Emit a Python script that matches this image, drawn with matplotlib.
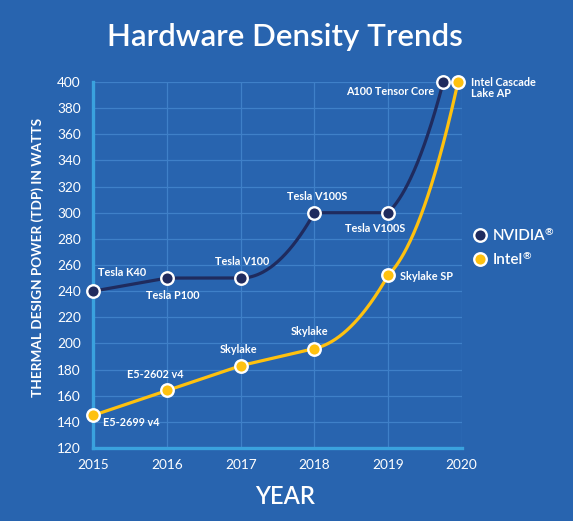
import numpy as np
import matplotlib
matplotlib.use("Agg")
import matplotlib.pyplot as plt
from matplotlib.lines import Line2D

# ---------------- data ----------------
years_nvidia = [2015, 2016, 2017, 2018, 2019, 2019.75]
tdp_nvidia = [240, 250, 250, 300, 300, 400]
labels_nvidia = ["Tesla K40", "Tesla P100", "Tesla V100", "Tesla V100S",
                 "Tesla V100S", "A100 Tensor Core"]

years_intel = [2015, 2016, 2017, 2018, 2019, 2019.95]
tdp_intel = [145, 164, 183, 196, 252, 400]
labels_intel = ["E5-2699 v4", "E5-2602 v4", "Skylake", "Skylake",
                "Skylake SP", "Intel Cascade\nLake AP"]

x_ticks = [2015, 2016, 2017, 2018, 2019, 2020]
y_ticks = list(range(120, 401, 20))

series_names = ["NVIDIA", "Intel"]

# ---------------- style ----------------
BG = "#2864af"
GRID = "#3f80c8"
AXIS = "#3aa2de"
NAVY = "#1f2b5e"
YELLOW = "#fec10f"
WHITE = "white"
FONT = ["Lato", "DejaVu Sans"]
plt.rcParams["font.family"] = FONT

# label offsets (points) and alignment
off_nvidia = [((3.6, 13.5), "left"), ((4.3, -12.2), "center"), ((1.4, 12.2), "center"),
              ((2.2, 11.5), "center"), ((-9.4, -11.5), "center"), ((-6.5, -6.5), "right")]
off_intel = [((7.2, -5), "left"), ((-8.6, 11.5), "center"), ((-1.4, 11.7), "center"),
             ((-3.6, 12.2), "center"), ((8.6, -0.7), "left"), ((9.4, -4.6), "left")]


def smooth(xs, ys, n=80):
    """Piecewise quadratic smoothing with minmod start tangents."""
    xs = np.asarray(xs, float)
    ys = np.asarray(ys, float)
    h = np.diff(xs)
    d = np.diff(ys) / h
    outx, outy = [], []
    for i in range(len(h)):
        if i == 0:
            m0 = d[0]
        else:
            a, b = d[i - 1], d[i]
            m0 = 0.0 if a * b <= 0 else (a if abs(a) < abs(b) else b)
            if i == len(h) - 1 and m0 == 0.0:
                m0 = 0.4 * b
        t = np.linspace(0, 1, n)
        x = xs[i] + h[i] * t
        y = ys[i] + m0 * h[i] * t + (ys[i + 1] - ys[i] - m0 * h[i]) * t ** 2
        outx.append(x)
        outy.append(y)
    return np.concatenate(outx), np.concatenate(outy)


fig = plt.figure(figsize=(5.73, 5.21), dpi=100, facecolor=BG)
W, H = 573, 521
ax = fig.add_axes([93.3 / W, (H - 448) / H, (461.7 - 93.3) / W, (448 - 82) / H])
ax.set_facecolor(BG)
ax.set_xlim(2015, 2020)
ax.set_ylim(120, 400)
ax.set_xticks(x_ticks)
ax.set_yticks(y_ticks)
ax.grid(True, color=GRID, lw=0.9, zorder=0)
ax.set_axisbelow(True)
for s in ["top", "right"]:
    ax.spines[s].set_visible(False)
for s in ["left", "bottom"]:
    ax.spines[s].set_color(AXIS)
    ax.spines[s].set_linewidth(2.4)
    ax.spines[s].set_zorder(1)
ax.tick_params(axis="both", length=0, colors=WHITE, labelsize=9.8)
ax.tick_params(axis="y", pad=9)
ax.tick_params(axis="x", pad=8)

for xs, ys, col, labs, offs, z in [
    (years_nvidia, tdp_nvidia, NAVY, labels_nvidia, off_nvidia, 3),
    (years_intel, tdp_intel, YELLOW, labels_intel, off_intel, 4),
]:
    sx, sy = smooth(xs, ys)
    ax.plot(sx, sy, color=col, lw=2.3, zorder=z, clip_on=False, solid_capstyle="round")
    ax.plot(xs, ys, "o", ms=9, mfc=col, mec=WHITE, mew=1.7, zorder=z + 2, clip_on=False)
    for x, y, lab, (off, ha) in zip(xs, ys, labs, offs):
        ax.annotate(lab, (x, y), xytext=off, textcoords="offset points",
                    ha=ha, va="center", color=WHITE, fontsize=7.8,
                    fontweight="bold", zorder=10, linespacing=1.0,
                    annotation_clip=False)

# title and axis labels
fig.text(285 / W, 1 - 46 / H, "Hardware Density Trends", ha="center", va="baseline",
         color=WHITE, fontsize=22.5, fontweight="semibold")
fig.text(285 / W, 1 - 504 / H, "YEAR", ha="center", va="baseline",
         color=WHITE, fontsize=17, fontweight="semibold")
fig.text(38 / W, 1 - 257 / H, "THERMAL DESIGN POWER (TDP) IN WATTS", rotation=90,
         ha="center", va="center", color=WHITE, fontsize=9.8, fontweight="bold")

# legend
for (name, col, yy) in [(series_names[0], NAVY, 235), (series_names[1], YELLOW, 259)]:
    fig.add_artist(Line2D([480 / W], [1 - yy / H], transform=fig.transFigure,
                          marker="o", ms=9, mfc=col, mec=WHITE, mew=1.7, ls="none"))
    t = fig.text(493 / W, 1 - (yy + 5) / H, name, ha="left", va="baseline",
                 color=WHITE, fontsize=11, fontweight="semibold")
    ax.annotate("®", xy=(1, 1), xycoords=t, xytext=(-0.8, 0.5), textcoords="offset points",
                ha="left", va="top", color=WHITE, fontsize=7.5, fontweight="semibold",
                annotation_clip=False)

fig.savefig("out.png", dpi=100, facecolor=BG)
